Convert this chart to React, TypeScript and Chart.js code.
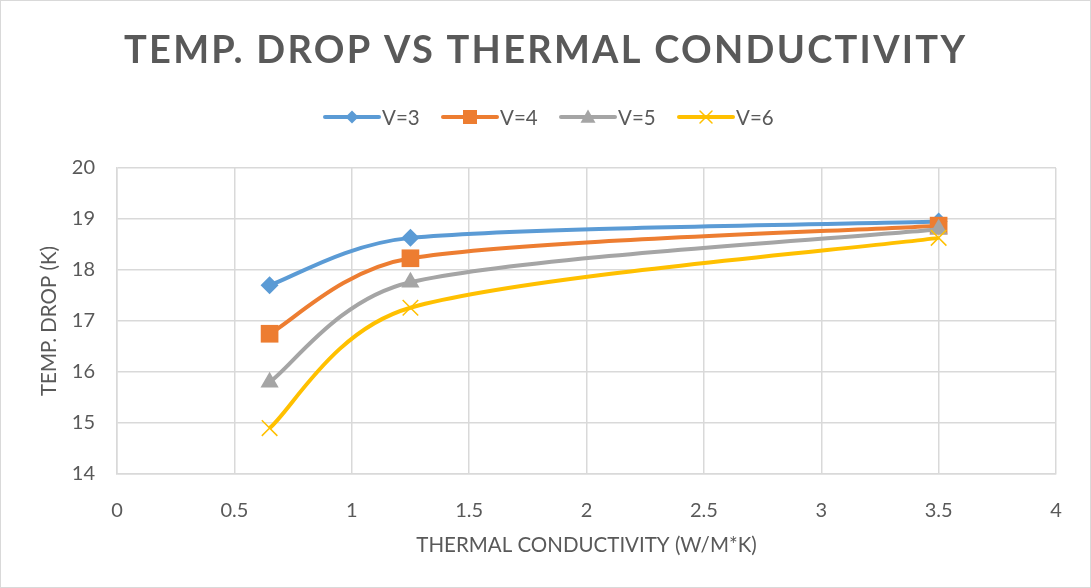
import React, { useEffect, useRef } from "react";
import { Chart, registerables } from "chart.js";

Chart.register(...registerables);

// Thermal conductivity (W/m*K) at which the temperature drop was measured
const conductivity = [0.65, 1.25, 3.5];

// Temperature drop (K) for each supply voltage
const dropV3 = [17.7, 18.63, 18.95];
const dropV4 = [16.75, 18.23, 18.87];
const dropV5 = [15.8, 17.76, 18.8];
const dropV6 = [14.9, 17.26, 18.63];

const seriesLabels = ["V=3", "V=4", "V=5", "V=6"];
const seriesColors = ["#5B9BD5", "#ED7D31", "#A5A5A5", "#FFC000"];
const seriesMarkers = ["rectRot", "rect", "triangle", "crossRot"];

const xTickLabels = ["0", "0.5", "1", "1.5", "2", "2.5", "3", "3.5", "4"];
const yTickLabels = ["14", "15", "16", "17", "18", "19", "20"];

const TITLE = "TEMP. DROP VS THERMAL CONDUCTIVITY";
const X_TITLE = "THERMAL CONDUCTIVITY (W/M*K)";
const Y_TITLE = "TEMP. DROP (K)";

const TEXT_COLOR = "#595959";
const GRID_COLOR = "#D9D9D9";
const FONT = "Lato, 'Open Sans', sans-serif";

const W = 1091;
const H = 588;

// half-extent of each legend marker
const legendMarkerSize = [6.5, 7, 7.5, 6];

function drawMarker(
  ctx: CanvasRenderingContext2D,
  kind: string,
  x: number,
  y: number,
  s: number,
  color: string
) {
  ctx.save();
  ctx.fillStyle = color;
  ctx.strokeStyle = color;
  ctx.beginPath();
  if (kind === "rectRot") {
    ctx.moveTo(x, y - s);
    ctx.lineTo(x + s, y);
    ctx.lineTo(x, y + s);
    ctx.lineTo(x - s, y);
    ctx.closePath();
    ctx.fill();
  } else if (kind === "rect") {
    ctx.rect(x - s, y - s, 2 * s, 2 * s);
    ctx.fill();
  } else if (kind === "triangle") {
    ctx.moveTo(x, y - s);
    ctx.lineTo(x + s, y + s * 0.75);
    ctx.lineTo(x - s, y + s * 0.75);
    ctx.closePath();
    ctx.fill();
  } else {
    ctx.lineWidth = 1.5;
    ctx.moveTo(x - s, y - s);
    ctx.lineTo(x + s, y + s);
    ctx.moveTo(x + s, y - s);
    ctx.lineTo(x - s, y + s);
    ctx.stroke();
  }
  ctx.restore();
}

// Smoothed lines: Catmull-Rom tangents (one sixth of the neighbour span),
// with each handle kept within a share of its own segment's length.
const HANDLE_CAP = 0.43;
const smoothLines = {
  id: "smoothLines",
  beforeDatasetsDraw(chart: Chart) {
    chart.data.datasets.forEach((_ds, di) => {
      const meta: any = chart.getDatasetMeta(di);
      const pts: any[] = meta.data;
      const n = pts.length;
      for (let i = 0; i < n; i++) {
        const p = pts[i];
        const prev = pts[Math.max(i - 1, 0)];
        const next = pts[Math.min(i + 1, n - 1)];
        const dx = (next.x - prev.x) / 6;
        const dy = (next.y - prev.y) / 6;
        const len = Math.hypot(dx, dy) || 1;
        const dPrev = Math.hypot(p.x - prev.x, p.y - prev.y);
        const dNext = Math.hypot(next.x - p.x, next.y - p.y);
        const kPrev = Math.min(1, (HANDLE_CAP * dPrev) / len);
        const kNext = Math.min(1, (HANDLE_CAP * dNext) / len);
        p.cp1x = p.x - dx * kPrev;
        p.cp1y = p.y - dy * kPrev;
        p.cp2x = p.x + dx * kNext;
        p.cp2y = p.y + dy * kNext;
      }
      if (meta.dataset) {
        meta.dataset._pointsUpdated = true;
        meta.dataset._path = undefined;
      }
    });
  },
};

// Title, legend, axis titles and the outer frame drawn around the plot
const decorations = {
  id: "decorations",
  afterDraw(chart: Chart) {
    const ctx = chart.ctx;
    const area = chart.chartArea;
    ctx.save();

    // outer frame
    ctx.strokeStyle = GRID_COLOR;
    ctx.lineWidth = 1;
    ctx.strokeRect(0.5, 0.5, W - 1, H - 1);

    // title, spread to its full width
    ctx.fillStyle = TEXT_COLOR;
    ctx.font = `bold 38px ${FONT}`;
    ctx.textBaseline = "alphabetic";
    ctx.textAlign = "left";
    const titleLeft = 124;
    const titleRight = 965;
    const plain = ctx.measureText(TITLE).width;
    const spacing = (titleRight - titleLeft - plain) / (TITLE.length - 1);
    (ctx as any).letterSpacing = `${spacing}px`;
    ctx.fillText(TITLE, titleLeft, 63);
    (ctx as any).letterSpacing = "0px";

    // legend
    ctx.font = `20.5px ${FONT}`;
    ctx.textBaseline = "middle";
    const legendY = 117;
    seriesLabels.forEach((label, i) => {
      const x0 = 325 + i * 118;
      ctx.strokeStyle = seriesColors[i];
      ctx.lineWidth = 4;
      ctx.lineCap = "round";
      ctx.beginPath();
      ctx.moveTo(x0, legendY);
      ctx.lineTo(x0 + 54, legendY);
      ctx.stroke();
      drawMarker(ctx, seriesMarkers[i], x0 + 27, legendY, legendMarkerSize[i], seriesColors[i]);
      ctx.fillStyle = TEXT_COLOR;
      ctx.fillText(label, x0 + 57, legendY + 1);
    });

    // axis titles
    ctx.font = `20.5px ${FONT}`;
    ctx.textAlign = "center";
    ctx.textBaseline = "middle";
    ctx.fillText(X_TITLE, (area.left + area.right) / 2, 545);
    ctx.translate(49, (area.top + area.bottom) / 2);
    ctx.rotate(-Math.PI / 2);
    ctx.fillText(Y_TITLE, 0, 0);
    ctx.restore();
  },
};

function makeDataset(i: number, values: number[]) {
  const isCross = seriesMarkers[i] === "crossRot";
  const radius = [9, 12.5, 10.5, 11][i];
  return {
    label: seriesLabels[i],
    data: conductivity.map((x, k) => ({ x, y: values[k] })),
    borderColor: seriesColors[i],
    backgroundColor: seriesColors[i],
    borderWidth: 4,
    tension: 0.4,
    pointStyle: seriesMarkers[i],
    pointRadius: radius,
    pointBorderWidth: isCross ? 1.5 : 0,
    pointBorderColor: seriesColors[i],
    pointBackgroundColor: seriesColors[i],
    order: 4 - i,
  };
}

export default function App() {
  const canvasRef = useRef<HTMLCanvasElement | null>(null);

  useEffect(() => {
    document.body.style.margin = "0";
    const canvas = canvasRef.current;
    if (!canvas) return;

    const chart = new Chart(canvas, {
      type: "line",
      data: {
        datasets: [
          makeDataset(0, dropV3),
          makeDataset(1, dropV4),
          makeDataset(2, dropV5),
          makeDataset(3, dropV6),
        ],
      },
      options: {
        responsive: false,
        animation: false,
        devicePixelRatio: 1,
        layout: { padding: { top: 168, right: 35, left: 0, bottom: 0 } },
        plugins: {
          legend: { display: false },
          title: { display: false },
          tooltip: { enabled: false },
        },
        scales: {
          x: {
            type: "linear",
            min: 0,
            max: 4,
            ticks: {
              stepSize: 0.5,
              padding: 25,
              color: TEXT_COLOR,
              font: { family: FONT, size: 20 },
              maxRotation: 0,
              callback: (_v: any, idx: number) => xTickLabels[idx],
            },
            grid: { color: GRID_COLOR, lineWidth: 1.5, drawTicks: false },
            border: { color: GRID_COLOR, width: 1.5 },
            afterFit: (scale: any) => {
              scale.height = 114;
            },
          },
          y: {
            min: 14,
            max: 20,
            ticks: {
              stepSize: 1,
              padding: 22,
              color: TEXT_COLOR,
              font: { family: FONT, size: 20 },
              callback: (_v: any, idx: number) => yTickLabels[idx],
            },
            grid: { color: GRID_COLOR, lineWidth: 1.5, drawTicks: false },
            border: { color: GRID_COLOR, width: 1.5 },
            afterFit: (scale: any) => {
              scale.width = 117;
            },
          },
        },
      },
      plugins: [smoothLines, decorations],
    });

    return () => chart.destroy();
  }, []);

  return (
    <div style={{ width: W, height: H, background: "#ffffff" }}>
      <canvas ref={canvasRef} width={W} height={H} />
    </div>
  );
}
